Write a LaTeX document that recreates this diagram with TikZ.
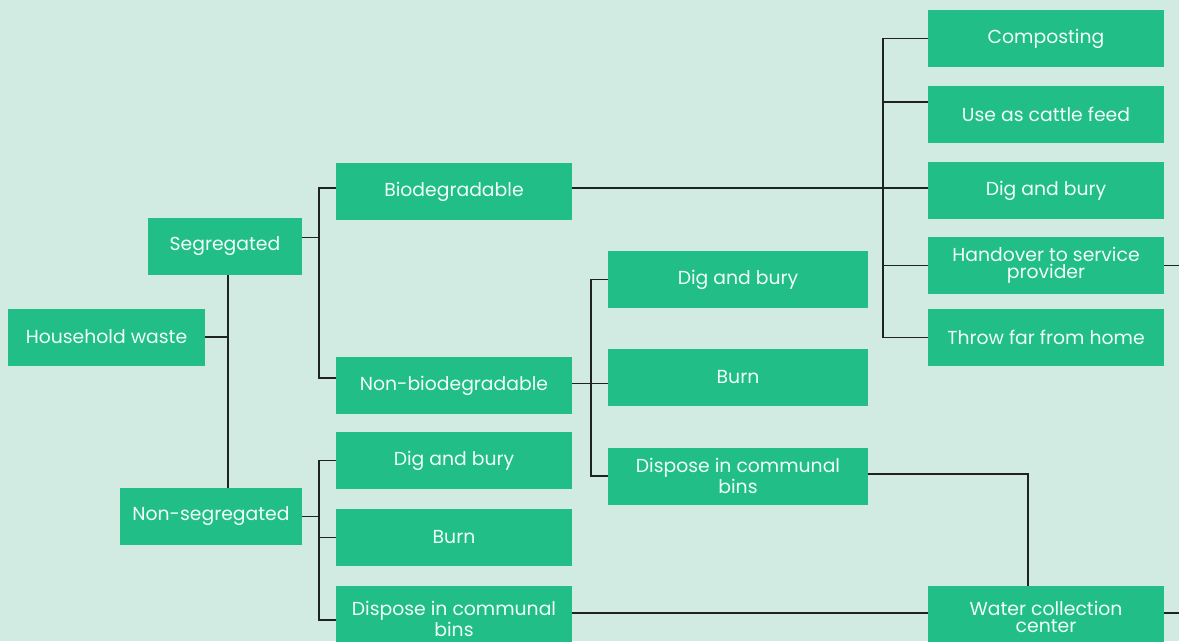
\documentclass[tikz,border=0pt]{standalone}
\usepackage{fontspec}
\setmainfont{Poppins}
\definecolor{bg}{RGB}{210,235,226}
\definecolor{boxg}{RGB}{33,190,135}
\definecolor{txt}{RGB}{240,255,248}
\definecolor{ln}{RGB}{30,35,33}
\begin{document}
\begin{tikzpicture}[x=1pt,y=-1pt,
  box/.style={fill=boxg,text=txt,minimum height=57pt,inner sep=0pt,align=center,
    font={\fontsize{18.8}{17}\selectfont}},
  conn/.style={draw=ln,line width=1.2pt}]
\fill[bg] (0,0) rectangle (1179,641);
\useasboundingbox (0,0) rectangle (1179,641);
\begin{scope}
\clip (0,0) rectangle (1179,641);
% level 0/1
\node[box,minimum width=197pt] (hw) at (106.5,337) {Household waste};
\node[box,minimum width=154pt] (seg) at (225,246.5) {Segregated};
\node[box,minimum width=182pt] (nseg) at (211,516.5) {Non-segregated};
% level 2
\node[box,minimum width=236pt] (bio) at (454,191.5) {Biodegradable};
\node[box,minimum width=236pt] (nb) at (454,385.5) {Non-biodegradable};
\node[box,minimum width=236pt] (nsdig) at (454,460.5) {Dig and bury};
\node[box,minimum width=236pt] (nsburn) at (454,537.5) {Burn};
\node[box,minimum width=236pt,minimum height=66pt] (nsdisp) at (454,619) {Dispose in communal\\bins};
% level 3 (non-biodegradable)
\node[box,minimum width=260pt] (nbdig) at (738,279.5) {Dig and bury};
\node[box,minimum width=260pt] (nbburn) at (738,377.5) {Burn};
\node[box,minimum width=260pt] (nbdisp) at (738,476) {Dispose in communal\\bins};
% right column
\node[box,minimum width=236pt] (comp) at (1046,38.5) {Composting};
\node[box,minimum width=236pt] (cattle) at (1046,114.5) {Use as cattle feed};
\node[box,minimum width=236pt] (bdig) at (1046,190.5) {Dig and bury};
\node[box,minimum width=236pt] (hand) at (1046,265.5) {Handover to service\\provider};
\node[box,minimum width=236pt] (throw) at (1046,337.5) {Throw far from home};
\node[box,minimum width=236pt,minimum height=61pt] (water) at (1046,616.5) {Water collection\\center};
% junction coordinates
\coordinate (j1) at (228,0);
\coordinate (j2) at (319,0);
\coordinate (j3) at (591,0);
\coordinate (j4) at (883,0);
\coordinate (j5) at (1028,0);
\coordinate (edge) at (1179,0);
% household -> segregated / non-segregated
\draw[conn] (hw.east) -- (hw.east -| j1);
\draw[conn] (seg.south -| j1) -- (nseg.north -| j1);
% segregated
\coordinate (segR) at ([yshift=9pt]seg.east);
\coordinate (bioL) at ([yshift=3.5pt]bio.west);
\coordinate (nbL) at ([yshift=7.5pt]nb.west);
\draw[conn] (segR) -- (segR -| j2);
\draw[conn] (bioL) -| (j2 |- nbL) -- (nbL);
% non-segregated
\coordinate (nsdispL) at ([yshift=-1pt]nsdisp.west);
\draw[conn] (nseg.east) -- (nseg.east -| j2);
\draw[conn] (nsdig.west) -| (j2 |- nsdispL) -- (nsdispL);
\draw[conn] (nsburn.west) -- (nsburn.west -| j2);
% non-biodegradable
\coordinate (nbR) at ([yshift=2pt]nb.east);
\draw[conn] (nbR) -- (nbR -| j3);
\draw[conn] (nbdig.west) -| (j3 |- nbdisp.west) -- (nbdisp.west);
\draw[conn] (nbR -| j3) -- (nbR -| nbburn.west);
% biodegradable
\coordinate (bioR) at ([yshift=3.5pt]bio.east);
\coordinate (cattleL) at ([yshift=12.5pt]cattle.west);
\draw[conn] (bioR) -- (bioR -| bdig.west);
\draw[conn] (comp.west) -| (j4 |- throw.west) -- (throw.west);
\draw[conn] (cattleL) -- (cattleL -| j4);
\draw[conn] (hand.west) -- (hand.west -| j4);
% water collection
\coordinate (nbdispR) at ([yshift=2pt]nbdisp.east);
\coordinate (nsdispR) at ([yshift=6pt]nsdisp.east);
\draw[conn] (nbdispR) -| (water.north -| j5);
\draw[conn] (nsdispR) -- (nsdispR -| water.west);
\draw[conn] (hand.east) -- (hand.east -| edge);
\coordinate (waterR) at ([yshift=3.5pt]water.east);
\draw[conn] (waterR) -- (waterR -| edge);
\end{scope}
\end{tikzpicture}
\end{document}
